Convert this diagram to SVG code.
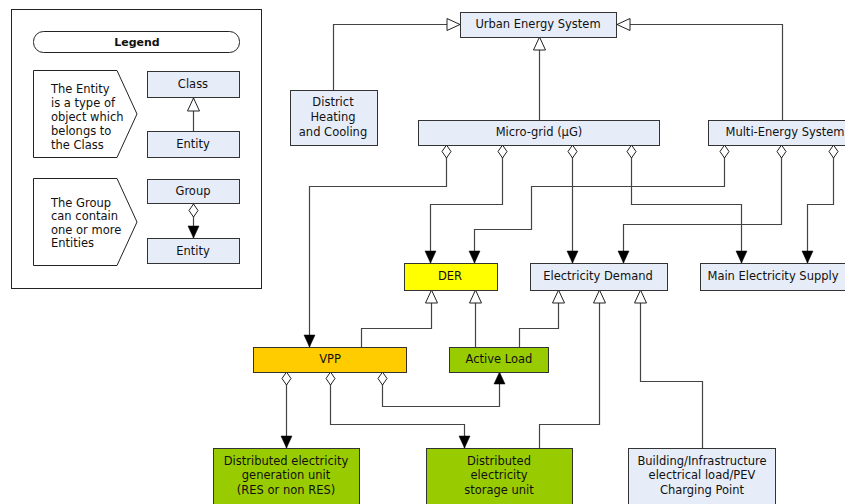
<svg xmlns="http://www.w3.org/2000/svg" width="845" height="504" viewBox="0 0 845 504">
<defs>
<style>
text{font-family:"DejaVu Sans","Liberation Sans",sans-serif;font-size:11.5px;fill:#111;text-anchor:middle}
.lt{text-anchor:start}
.b{font-weight:bold;font-size:11px}
.box{fill:#e7edf8;stroke:#333;stroke-width:1}
.der{fill:#ffff00;stroke:#333}
.vpp{fill:#ffcc00;stroke:#333}
.grn{fill:#99cc00;stroke:#333}
.ln{fill:none;stroke:#444;stroke-width:1.2}
.gen{marker-end:url(#tri)}
.agg{marker-start:url(#dia);marker-end:url(#arr)}
</style>
<marker id="tri" markerUnits="userSpaceOnUse" markerWidth="14" markerHeight="14" refX="13" refY="6" orient="auto" overflow="visible">
<path d="M0,0 L13,6 L0,12 z" fill="#fff" stroke="#222" stroke-width="1"/>
</marker>
<marker id="arr" markerUnits="userSpaceOnUse" markerWidth="14" markerHeight="14" refX="12" refY="5.5" orient="auto" overflow="visible">
<path d="M0,0 L12,5.5 L0,11 z" fill="#000" stroke="#000" stroke-width="0.5"/>
</marker>
<marker id="dia" markerUnits="userSpaceOnUse" markerWidth="14" markerHeight="14" refX="0" refY="4.5" orient="auto" overflow="visible">
<path d="M0,4.5 L6.5,0 L13,4.5 L6.5,9 z" fill="#fff" stroke="#222" stroke-width="1"/>
</marker>
</defs>
<rect width="845" height="504" fill="#fff"/>

<g id="legend">
<rect x="11.5" y="9.5" width="250" height="279" fill="#fff" stroke="#222"/>
<rect x="33.5" y="31.5" width="206" height="21" rx="10" ry="10" fill="#fff" stroke="#222"/>
<text x="137" y="46" class="b">Legend</text>
<path d="M33.5,70.5 H117 L137,114 L117,157.5 H33.5 Z" fill="#fff" stroke="#222"/>
<text class="lt" x="51" y="93">The Entity</text>
<text class="lt" x="51" y="107">is a type of</text>
<text class="lt" x="51" y="121">object which</text>
<text class="lt" x="51" y="135">belongs to</text>
<text class="lt" x="51" y="149">the Class</text>
<rect class="box" x="147.5" y="71.5" width="92" height="26"/>
<text x="193" y="88">Class</text>
<rect class="box" x="147.5" y="131.5" width="92" height="26"/>
<text x="193" y="148">Entity</text>
<path d="M33.5,178.5 H117 L137,222 L117,265.5 H33.5 Z" fill="#fff" stroke="#222"/>
<text class="lt" x="51" y="207">The Group</text>
<text class="lt" x="51" y="220">can contain</text>
<text class="lt" x="51" y="234">one or more</text>
<text class="lt" x="51" y="247">Entities</text>
<rect class="box" x="147.5" y="179.5" width="92" height="24"/>
<text x="193" y="195">Group</text>
<rect class="box" x="147.5" y="238.5" width="92" height="25"/>
<text x="193" y="255">Entity</text>
<path class="ln gen" d="M193.5,131 V98"/>
<path class="ln agg" d="M193.5,204 V238"/>
</g>

<g id="connectors">
<path class="ln gen" d="M333.5,90 V24.5 H460"/>
<path class="ln gen" d="M539.5,120 V37"/>
<path class="ln gen" d="M782.5,120 V24.5 H617"/>
<path class="ln gen" d="M361.5,347 V328.5 H431.5 V290"/>
<path class="ln gen" d="M475.5,347 V290"/>
<path class="ln gen" d="M519.5,347 V328.5 H558.5 V290"/>
<path class="ln gen" d="M539.5,448 V424.5 H599.5 V290"/>
<path class="ln gen" d="M702.5,448 V381.5 H640.5 V290"/>

<path class="ln agg" d="M446.5,145 V186.5 H309.5 V347"/>
<path class="ln agg" d="M502.5,145 V204.5 H430.5 V263"/>
<path class="ln agg" d="M724.5,145 V186.5 H531.5 V229.5 H474.5 V263"/>
<path class="ln agg" d="M572.5,145 V263"/>
<path class="ln agg" d="M631.5,145 V204.5 H741.5 V263"/>
<path class="ln agg" d="M781.5,145 V224.5 H623.5 V263"/>
<path class="ln agg" d="M833.5,145 V204.5 H807.5 V263"/>
<path class="ln agg" d="M286.5,372 V448"/>
<path class="ln agg" d="M330.5,372 V424.5 H464.5 V448"/>
<path class="ln agg" d="M382.5,372 V406.5 H499.5 V372"/>
</g>

<g id="urban"><rect class="box" x="460.5" y="12.5" width="156" height="25"/><text x="538" y="28">Urban Energy System</text></g>
<g id="dhc"><rect class="box" x="290.5" y="90.5" width="87" height="55"/>
<text x="333" y="106">District</text><text x="333" y="121">Heating</text><text x="333" y="136">and Cooling</text></g>
<g id="microgrid"><rect class="box" x="418.5" y="120.5" width="241" height="25"/><text x="539" y="136">Micro-grid (μG)</text></g>
<g id="mes"><rect class="box" x="708.5" y="120.5" width="160" height="25"/><text x="785" y="136">Multi-Energy System</text></g>
<g id="der"><rect class="der" x="404.5" y="263.5" width="93" height="27"/><text x="450" y="280">DER</text></g>
<g id="demand"><rect class="box" x="530.5" y="263.5" width="137" height="27"/><text x="598" y="280">Electricity Demand</text></g>
<g id="supply"><rect class="box" x="700.5" y="263.5" width="147" height="27"/><text x="773" y="280">Main Electricity Supply</text></g>
<g id="vpp"><rect class="vpp" x="253.5" y="347.5" width="153" height="25"/><text x="330" y="363">VPP</text></g>
<g id="activeload"><rect class="grn" x="449.5" y="347.5" width="99" height="25"/><text x="499" y="363">Active Load</text></g>
<g id="gen"><rect class="grn" x="213.5" y="448.5" width="146" height="56"/>
<text x="286" y="465">Distributed electricity</text><text x="286" y="479">generation unit</text><text x="286" y="494">(RES or non RES)</text></g>
<g id="storage"><rect class="grn" x="426.5" y="448.5" width="146" height="56"/>
<text x="499" y="465">Distributed</text><text x="499" y="479">electricity</text><text x="499" y="494">storage unit</text></g>
<g id="building"><rect class="box" x="628.5" y="448.5" width="147" height="56"/>
<text x="702" y="465">Building/Infrastructure</text><text x="702" y="479">electrical load/PEV</text><text x="702" y="494">Charging Point</text></g>
</svg>
